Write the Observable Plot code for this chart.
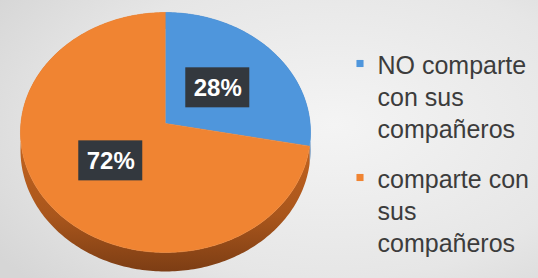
<!DOCTYPE html>
<html>
<head>
<meta charset="utf-8">
<script src="https://cdn.jsdelivr.net/npm/d3@7"></script>
<script src="https://cdn.jsdelivr.net/npm/@observablehq/plot@0.6"></script>
<style>
  html, body { margin: 0; padding: 0; }
  #chart {
    width: 538px; height: 278px; overflow: hidden;
    background: radial-gradient(ellipse 75% 85% at 62% 45%, #f4f4f4 0%, #e6e6e6 65%, #d6d6d6 100%);
  }
</style>
</head>
<body>
<div id="chart"></div>
<script>
// ---- data ----
const categories = ["NO comparte con sus compañeros", "comparte con sus compañeros"];
const legendLines = [["NO comparte", "con sus", "compañeros"], ["comparte con", "sus", "compañeros"]];
const values = [28, 72];
const valueLabels = ["28%", "72%"];
const topColors = ["#4f96dc", "#f08432"];
const sideColors = ["#3a6fa8", "url(#sideGrad)"];

// ---- layout ----
const W = 538, H = 278;
const cx = 165, cy = 123;      // pie vertex
const A = 144.6, B = 119.3;    // horizontal / vertical radii
const persp = 0.075;           // perspective
const depth = 17.6;            // side thickness
const labelFrac = 0.48;
const legendX = 359.5, legendTops = [73, 187], lineH = 32, legendFont = 25;

function proj(theta, f = 1, drop = 0) {
  const X = f * Math.sin(theta), Z = f * Math.cos(theta);
  const w = 1 + persp * Z;
  return [cx + A * X / w, cy - B * Z / w + drop / w];
}
function arc(a0, a1, drop) {
  const n = Math.max(2, Math.ceil(Math.abs(a1 - a0) / (Math.PI / 180)));
  const pts = [];
  for (let k = 0; k <= n; k++) pts.push(proj(a0 + (a1 - a0) * k / n, 1, drop));
  return pts;
}

const arcs = d3.pie().sort(null).startAngle(0).endAngle(2 * Math.PI)(values);

// shadow
const shadowRows = arc(0, 2 * Math.PI, depth).map(([x, y]) => ({x: x + 3, y: y + 4}));

// sides
const sideRows = [];
arcs.forEach((a, i) => {
  const pts = arc(a.startAngle, a.endAngle, 0).concat(arc(a.endAngle, a.startAngle, depth));
  pts.forEach(([x, y]) => sideRows.push({key: i, x, y, fill: sideColors[i]}));
});

// top faces
const topRows = [];
arcs.forEach((a, i) => {
  topRows.push({key: i, x: cx, y: cy, fill: topColors[i]});
  arc(a.startAngle, a.endAngle, 0).forEach(([x, y]) => topRows.push({key: i, x, y, fill: topColors[i]}));
});

// value labels
const labelRows = arcs.map((a, i) => {
  const [x, y] = proj((a.startAngle + a.endAngle) / 2, labelFrac, 0);
  return {x, y, text: valueLabels[i]};
});

// legend
const legendSwatches = categories.map((c, i) => ({x: legendX, y: legendTops[i] - 10, fill: topColors[i]}));
const legendText = [];
legendLines.forEach((lines, i) => lines.forEach((t, j) =>
  legendText.push({x: legendX + 17.5, y: legendTops[i] + j * lineH - 0.32 * legendFont, text: t})));

const plot = Plot.plot({
  width: W, height: H,
  margin: 0,
  x: {domain: [0, W], range: [0, W], axis: null},
  y: {domain: [0, H], range: [0, H], axis: null},
  color: {type: "identity"},
  style: {background: "transparent", fontFamily: "'Liberation Sans', Arial, sans-serif"},
  marks: [
    Plot.line(shadowRows, {x: "x", y: "y", fill: "#000", fillOpacity: 0.28, stroke: "none", ariaLabel: "shadow"}),
    Plot.line(sideRows, {x: "x", y: "y", z: "key", fill: "fill", stroke: "none"}),
    Plot.line(topRows, {x: "x", y: "y", z: "key", fill: "fill", stroke: "fill", strokeWidth: 0.6}),
    Plot.rect(labelRows, {x1: d => d.x - 32, x2: d => d.x + 32, y1: d => d.y - 20, y2: d => d.y + 20, fill: "#33383e"}),
    Plot.text(labelRows, {x: "x", y: "y", text: "text", fill: "white", fontSize: 24, fontWeight: "bold"}),
    Plot.dot(legendSwatches, {x: "x", y: "y", fill: "fill", symbol: "square", r: 4, stroke: "none"}),
    Plot.text(legendText, {x: "x", y: "y", text: "text", textAnchor: "start", fill: "#3c3c3c", fontSize: legendFont})
  ]
});

plot.insertAdjacentHTML("afterbegin", `<defs>
  <linearGradient id="sideGrad" gradientUnits="userSpaceOnUse" x1="0" y1="130" x2="0" y2="272">
    <stop offset="0" stop-color="#c6651f"/>
    <stop offset="0.6" stop-color="#a9561c"/>
    <stop offset="1" stop-color="#7c3d14"/>
  </linearGradient>
  <filter id="blur" x="-20%" y="-20%" width="140%" height="140%"><feGaussianBlur stdDeviation="5"/></filter>
</defs>`);
const sh = plot.querySelector('g[aria-label="shadow"]');
if (sh) sh.setAttribute("filter", "url(#blur)");
document.getElementById("chart").appendChild(plot);
</script>
</body>
</html>
